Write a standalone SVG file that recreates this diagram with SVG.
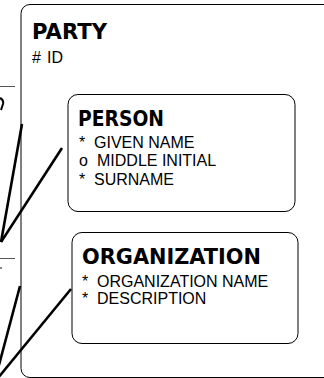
<svg xmlns="http://www.w3.org/2000/svg" width="324" height="378" viewBox="0 0 324 378">
<style>
.box{fill:#fff;stroke:#000;stroke-width:1}
.title{font-family:"DejaVu Sans","Liberation Sans",sans-serif;font-weight:bold;font-size:21px;fill:#000}
.attr{font-family:"Liberation Sans",Arial,sans-serif;font-size:16px;fill:#000}
.conn{stroke:#000;stroke-width:2.6;fill:none;stroke-linecap:butt}
.frag{stroke:#555;stroke-width:1;fill:none}
</style>
<rect width="324" height="378" fill="#fff"/>
<g id="left-fragments">
<line class="frag" x1="0" y1="86.5" x2="15" y2="86.5"/>
<line class="frag" x1="0" y1="258.5" x2="15" y2="258.5"/>
<path d="M0,98 Q4,100 3,104 L1,110" stroke="#000" stroke-width="2" fill="none"/>
<rect x="0" y="267" width="2" height="2" fill="#888"/>
</g>
<g id="party">
<rect class="box" x="21" y="4.5" width="330" height="373" rx="9"/>
<text class="title" x="32" y="39" textLength="75" lengthAdjust="spacingAndGlyphs">PARTY</text>
<text class="attr" x="32" y="63">#</text>
<text class="attr" x="47" y="63">ID</text>
</g>
<g id="person">
<rect class="box" x="68" y="94.5" width="227" height="117" rx="10"/>
<text class="title" x="78" y="126" textLength="86" lengthAdjust="spacingAndGlyphs">PERSON</text>
<text class="attr" x="79" y="148">*</text>
<text class="attr" x="94" y="148">GIVEN NAME</text>
<text class="attr" x="79" y="166">o</text>
<text class="attr" x="97" y="166">MIDDLE INITIAL</text>
<text class="attr" x="79" y="185">*</text>
<text class="attr" x="94" y="185">SURNAME</text>
</g>
<g id="organization">
<rect class="box" x="72" y="232.5" width="226" height="111" rx="10"/>
<text class="title" x="82" y="264" textLength="179" lengthAdjust="spacingAndGlyphs">ORGANIZATION</text>
<text class="attr" x="82" y="287">*</text>
<text class="attr" x="97" y="287">ORGANIZATION NAME</text>
<text class="attr" x="82" y="304">*</text>
<text class="attr" x="97" y="304">DESCRIPTION</text>
</g>
<g id="connectors">
<line class="conn" x1="22" y1="124" x2="1" y2="242"/>
<line class="conn" x1="62" y1="148" x2="1" y2="242"/>
<line class="conn" x1="20" y1="286" x2="-1" y2="365"/>
<line class="conn" x1="71" y1="289" x2="-2" y2="378"/>
</g>
</svg>
